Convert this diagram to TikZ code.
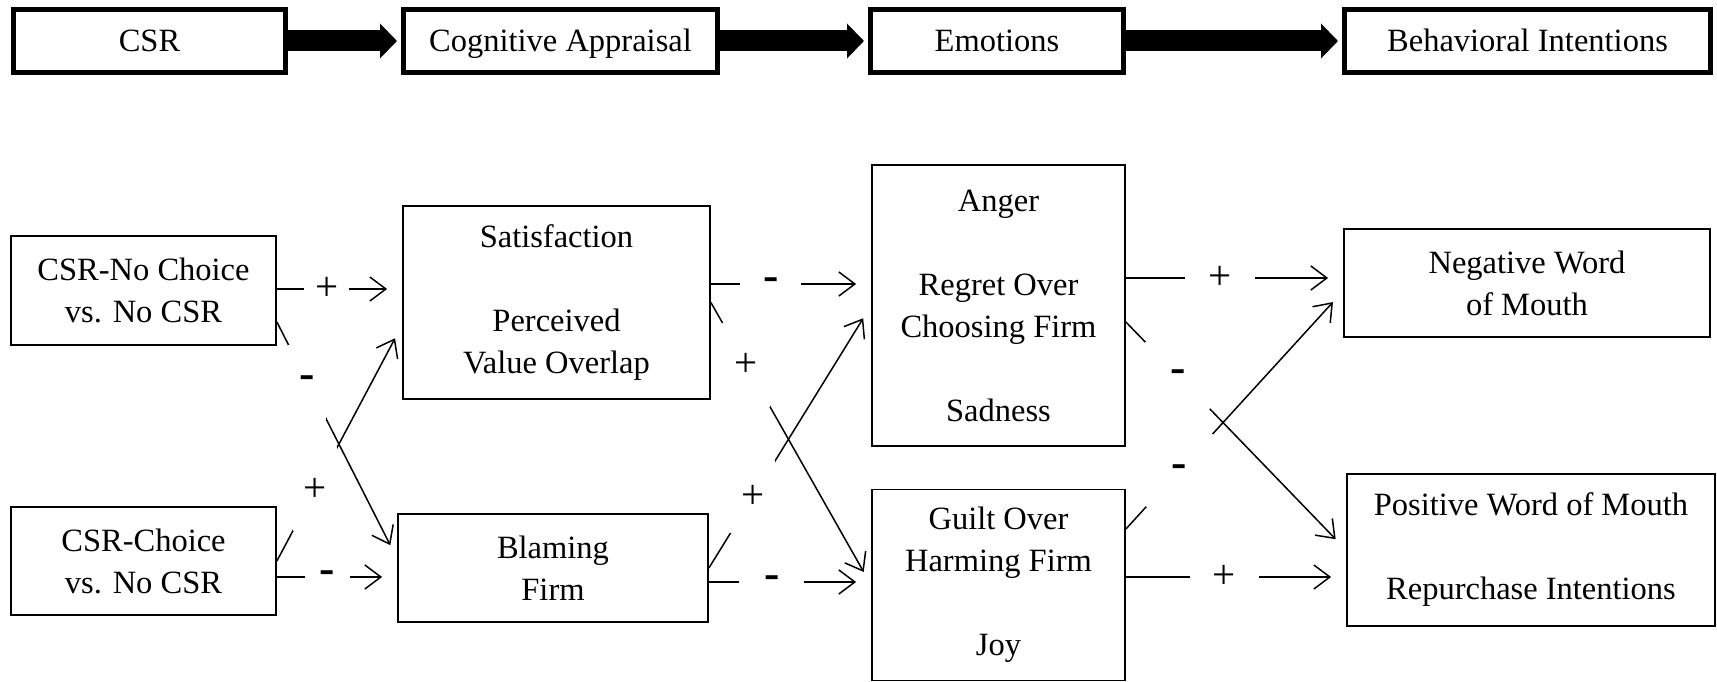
\documentclass[tikz,border=0pt]{standalone}
\usepackage{fontspec}
\setmainfont{Liberation Serif}
\usetikzlibrary{arrows.meta, positioning}

\begin{document}
\begin{tikzpicture}[
  x=1pt, y=-1pt,
  every node/.style={font=\fontsize{32.5}{42}\selectfont},
  box/.style={
    draw, line width=1.8pt, align=center, inner sep=0pt
  },
  stagebox/.style={
    draw, line width=5pt, inner sep=0pt, minimum height=63pt,
    text height=22pt, text depth=0pt
  },
  flow/.style={-{Triangle[length=17pt,width=34pt]}, line width=21pt,
               shorten >=4pt},
  link/.style={-{Straight Barb[length=16pt,width=24pt]}, line width=1.5pt,
               shorten >=15pt},
  sign/.style={fill=white, inner sep=0pt, minimum height=22pt,
               font=\fontsize{41}{42}\selectfont},
  minus/.style={sign, font=\fontsize{46}{42}\selectfont\bfseries}
]
\useasboundingbox (0,0) rectangle (1717,682);

%% ── Stage row (top) ─────────────────────────────────────────
\node[stagebox, minimum width=272pt] (csr) at (149.5,41) {CSR};
\node[stagebox, minimum width=314pt, right=113pt of csr] (appraisal)
      {Cognitive Appraisal};
\node[stagebox, minimum width=253pt, right=148pt of appraisal] (emotions)
      {Emotions};
\node[stagebox, minimum width=366pt, right=216pt of emotions] (intentions)
      {Behavioral Intentions};

\draw[flow] (csr)       -- (appraisal);
\draw[flow] (appraisal) -- (emotions);
\draw[flow] (emotions)  -- (intentions);

%% ── CSR conditions (left column) ────────────────────────────
\node[box, minimum width=265pt, minimum height=109pt] (nochoice)
      at (143.5,290.5) {CSR-No Choice\\vs. No CSR};
\node[box, minimum width=265pt, minimum height=108pt] (choice)
      at (143.5,561) {CSR-Choice\\vs. No CSR};

%% ── Appraisals ───────────────────────────────────────────────
\node[box, minimum width=307pt, minimum height=193pt] (satisf)
      at (556.5,302.5) {Satisfaction\\[42pt]Perceived\\Value Overlap};
\node[box, minimum width=310pt, minimum height=108pt] (blaming)
      at (553,568) {Blaming\\Firm};

%% ── Emotions ─────────────────────────────────────────────────
\node[box, minimum width=253pt, minimum height=281pt] (anger)
      at (998.5,305.5)
      {Anger\\[42pt]Regret Over\\Choosing Firm\\[42pt]Sadness};
\node[box, minimum width=253pt, minimum height=191pt] (guilt)
      at (998.5,585) {Guilt Over\\Harming Firm\\[42pt]Joy};

%% ── Behavioral intentions (right column) ────────────────────
\node[box, minimum width=366pt, minimum height=108pt] (negwom)
      at (1527,283) {Negative Word\\of Mouth};
\node[box, minimum width=368pt, minimum height=152pt] (poswom)
      at (1531,550) {Positive Word of Mouth\\[42pt]Repurchase Intentions};

%% ── CSR -> appraisal links ───────────────────────────────────
\draw[link] ([yshift=1.5pt]nochoice.east) -- ([yshift=13.5pt]satisf.west)
      node[sign, pos=0.4, minimum width=45pt] {+};
\draw[link] ([yshift=-31.5pt]nochoice.east) -- ([yshift=9.4pt]blaming.west)
      node[minus, pos=0.254, minimum width=38pt, minimum height=75pt] {-};
\draw[link] (choice.east) -- ([yshift=-22.5pt]satisf.west)
      node[sign, pos=0.303, minimum width=44pt, minimum height=84pt] {+};
\draw[link] ([yshift=-16pt]choice.east) -- ([yshift=-9pt]blaming.west)
      node[minus, pos=0.42, minimum width=45pt] {-};

%% ── Appraisal -> emotion links ───────────────────────────────
\draw[link] ([yshift=18.5pt]satisf.east) -- ([yshift=21.5pt]anger.west)
      node[minus, pos=0.373, minimum width=61pt] {-};
\draw[link] (satisf.east) -- (guilt.west)
      node[sign, pos=0.222, minimum width=48pt, minimum height=84pt] {+};
\draw[link] (blaming.east) -- (anger.west)
      node[sign, pos=0.271, minimum width=45pt, minimum height=73pt] {+};
\draw[link] ([yshift=-14pt]blaming.east) -- ([yshift=3pt]guilt.west)
      node[minus, pos=0.387, minimum width=65pt] {-};

%% ── Emotion -> intention links ───────────────────────────────
\draw[link] ([yshift=27.5pt]anger.east) -- ([yshift=5pt]negwom.west)
      node[sign, pos=0.434, minimum width=70pt] {+};
\draw[link] ([yshift=-16.5pt]anger.east) -- (poswom.west)
      node[minus, pos=0.236, minimum width=65pt, minimum height=67pt] {-};
\draw[link] ([yshift=56pt]guilt.east) -- ([yshift=-8pt]negwom.west)
      node[minus, pos=0.245, minimum width=67pt, minimum height=73pt] {-};
\draw[link] ([yshift=8pt]guilt.east) -- ([yshift=-27pt]poswom.west)
      node[sign, pos=0.446, minimum width=69pt] {+};

\end{tikzpicture}
\end{document}
